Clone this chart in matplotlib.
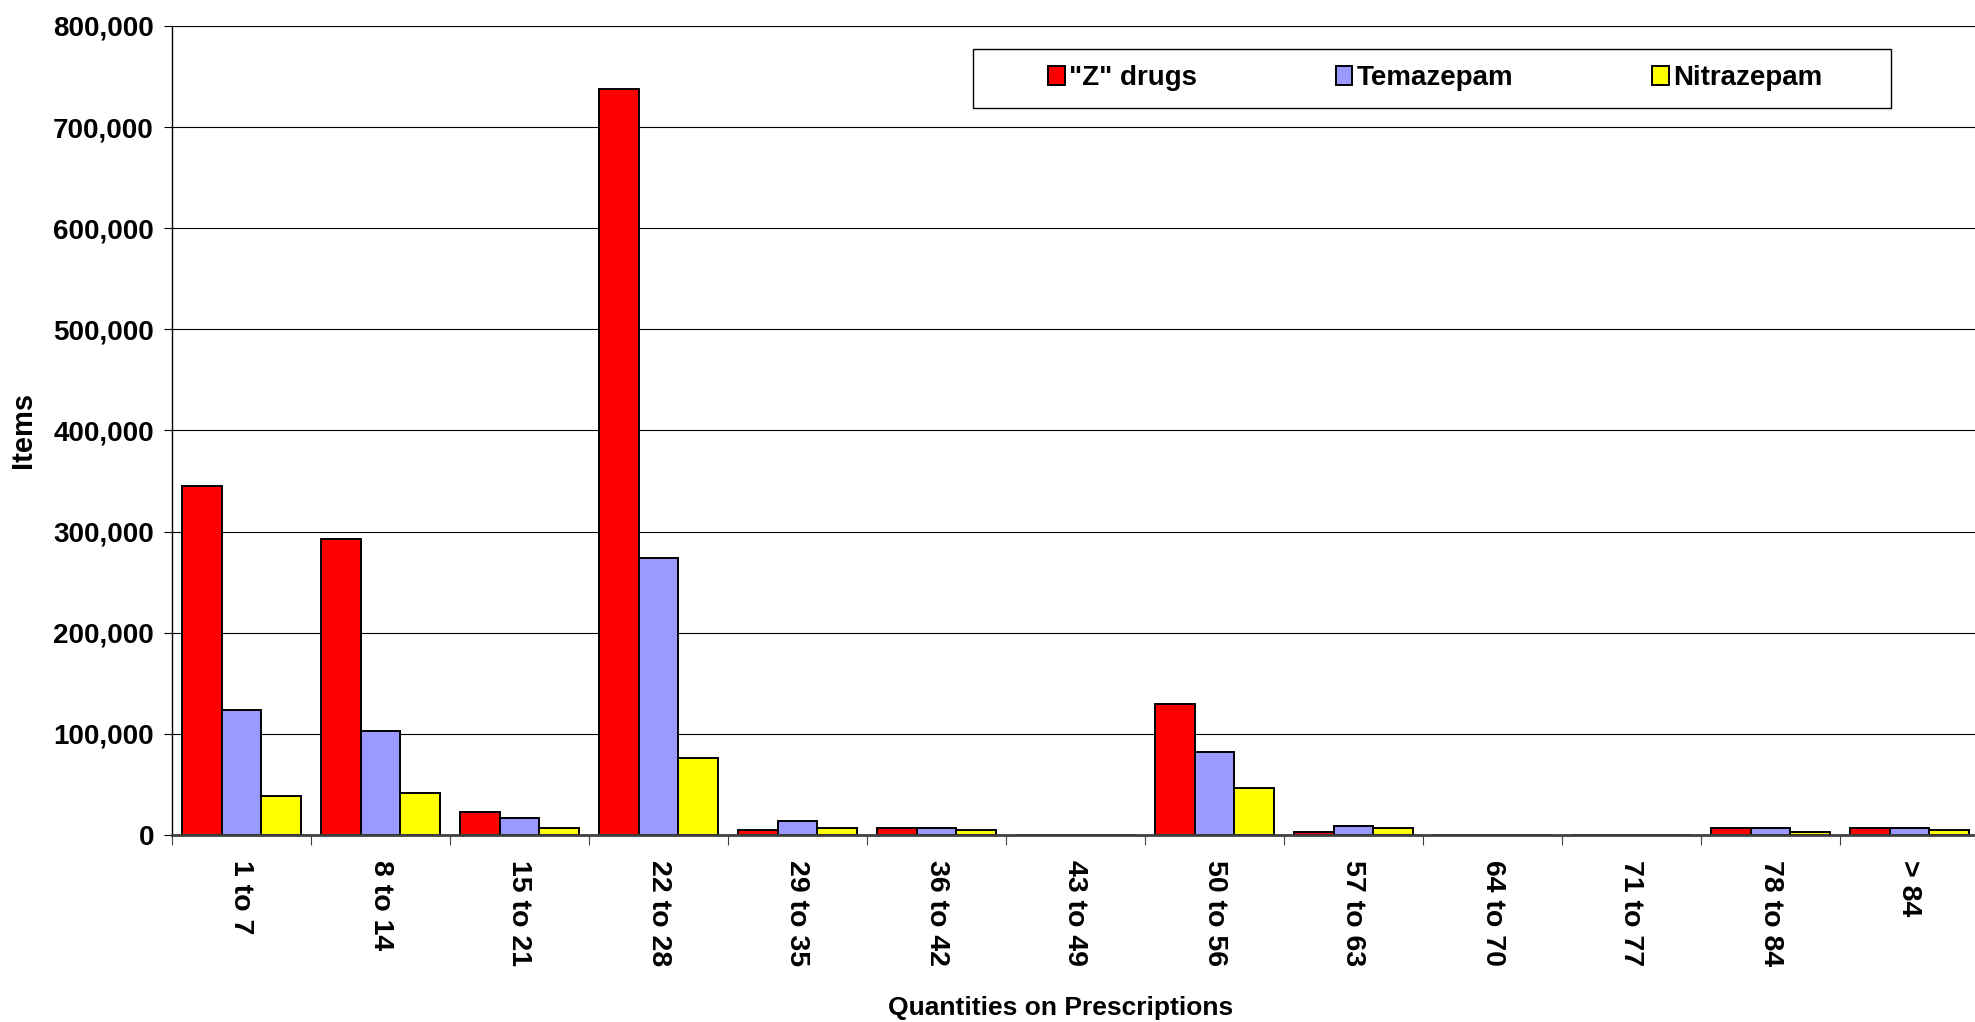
import numpy as np
import matplotlib
matplotlib.use("Agg")
import matplotlib.pyplot as plt
from matplotlib.patches import Rectangle
from matplotlib.ticker import FuncFormatter, MultipleLocator, FixedLocator

plt.rcParams['font.family'] = ['Liberation Sans', 'DejaVu Sans']
plt.rcParams['font.weight'] = 'bold'

categories = ['1 to 7', '8 to 14', '15 to 21', '22 to 28', '29 to 35', '36 to 42',
              '43 to 49', '50 to 56', '57 to 63', '64 to 70', '71 to 77', '78 to 84', '> 84']
z_drugs = [345000, 293000, 23000, 738000, 5000, 7000, 0, 130000, 2500, 0, 0, 7200, 7200]
temazepam = [124000, 103000, 16500, 274000, 13800, 7000, 0, 82400, 9200, 0, 0, 7200, 7200]
nitrazepam = [39000, 41500, 7200, 76000, 7200, 5000, 0, 46200, 7200, 0, 0, 2500, 5000]
series_names = ['"Z" drugs', 'Temazepam', 'Nitrazepam']
colors = ['#FF0000', '#9999FF', '#FFFF00']

W, H = 1975, 1022
fig = plt.figure(figsize=(W / 100, H / 100), dpi=100)

# plot area in pixels
left, top, bottom, cat_w = 172, 26, 835, 139
ax = fig.add_axes([left / W, 1 - bottom / H, (W - left) / W, (bottom - top) / H])

x = np.arange(len(categories))
bw = 0.283
handles = []
for i, (vals, col) in enumerate(zip([z_drugs, temazepam, nitrazepam], colors)):
    b = ax.bar(x + (i - 1) * bw, vals, width=bw, color=col, edgecolor='black',
               linewidth=1.4, zorder=3, label=series_names[i])
    handles.append(b)

ax.set_xlim(-0.5, -0.5 + (W - left) / cat_w)
ax.set_ylim(0, 800000)

ax.yaxis.set_major_locator(MultipleLocator(100000))
ax.yaxis.set_major_formatter(FuncFormatter(lambda v, p: f"{int(v):,}"))
ax.grid(axis='y', color='black', linewidth=0.8, zorder=1)
ax.set_axisbelow(True)

ax.spines['top'].set_visible(False)
ax.spines['right'].set_visible(False)
ax.spines['left'].set_color('black')
ax.spines['left'].set_linewidth(1.0)
ax.spines['bottom'].set_color('#404040')
ax.spines['bottom'].set_linewidth(2.0)
ax.spines['bottom'].set_zorder(4)

ax.tick_params(axis='y', length=6, width=0.8, pad=7, labelsize=20)
ax.set_xticks(x)
ax.set_xticklabels(categories, rotation=270, fontsize=20.5, va='top', ha='center')
ax.tick_params(axis='x', which='major', length=0, pad=18)
ax.xaxis.set_minor_locator(FixedLocator(np.arange(-0.5, len(categories), 1.0)))
ax.tick_params(axis='x', which='minor', length=7, width=0.8, color='#404040')

fig.text(23 / W, 1 - 430 / H, 'Items', rotation=90, ha='center', va='center',
         fontsize=21, fontweight='bold')
fig.text(1061 / W, 1 - 1008 / H, 'Quantities on Prescriptions', ha='center', va='center',
         fontsize=19, fontweight='bold')

# legend box
fig.patches.append(Rectangle((973 / W, 1 - 108 / H), (1891 - 973) / W, (108 - 49) / H,
                             transform=fig.transFigure, facecolor='white',
                             edgecolor='black', linewidth=1.0, zorder=5))
leg = fig.legend(handles=handles, loc='center', bbox_to_anchor=(1435 / W, 1 - 78 / H),
                 ncol=3, frameon=False, fontsize=20, handlelength=0.6, handleheight=0.68,
                 handletextpad=0.15, columnspacing=5.0, borderpad=0)
leg.set_zorder(6)

fig.savefig('out.png', dpi=100)
